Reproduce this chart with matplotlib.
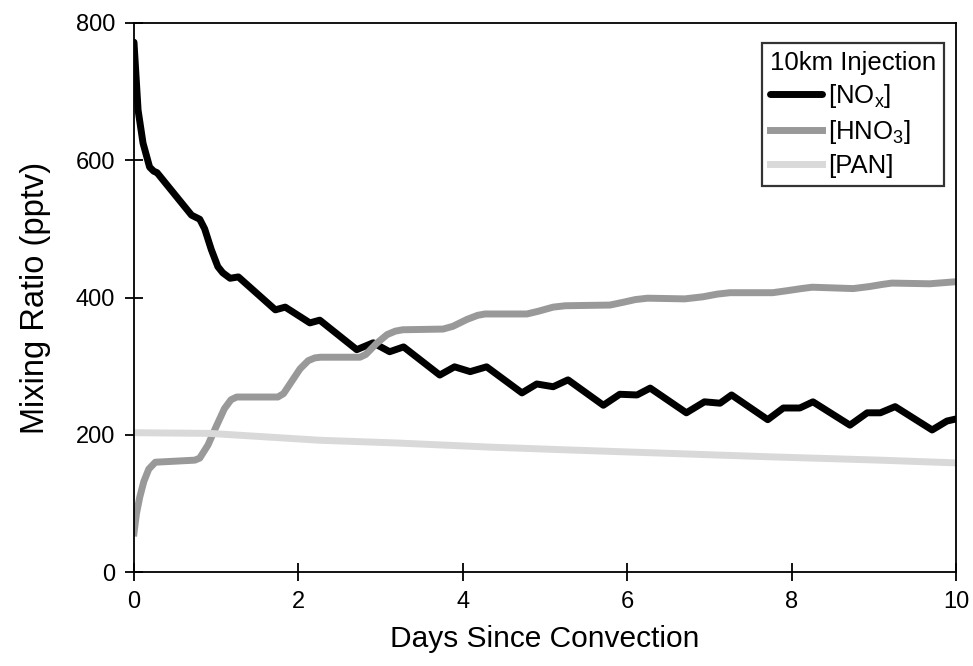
import matplotlib
matplotlib.use("Agg")
import matplotlib.pyplot as plt

plt.rcParams['font.family'] = ['Liberation Sans', 'DejaVu Sans']

# NOx mixing ratio after 10 km convective injection
nox_days = [0, 0.05, 0.11, 0.19, 0.24, 0.28, 0.70, 0.80, 0.86, 0.94, 1.02, 1.08, 1.17, 1.27,
            1.72, 1.84, 2.14, 2.26, 2.71, 2.91, 3.11, 3.28, 3.72, 3.90, 4.09, 4.29,
            4.72, 4.90, 5.10, 5.28, 5.71, 5.91, 6.12, 6.28, 6.72, 6.94, 7.13, 7.27,
            7.71, 7.90, 8.10, 8.26, 8.71, 8.92, 9.08, 9.26, 9.71, 9.89, 10.0]
nox_pptv = [772, 673, 625, 590, 584, 582, 520, 514, 500, 470, 445, 436, 428, 430,
            382, 386, 363, 367, 324, 334, 321, 328, 287, 299, 292, 299,
            261, 274, 270, 280, 243, 259, 258, 268, 232, 248, 246, 258,
            222, 239, 239, 248, 214, 232, 232, 241, 207, 220, 223]

hno3_days = [0, 0.03, 0.07, 0.12, 0.18, 0.26, 0.74, 0.80, 0.90, 1.00, 1.10, 1.18, 1.25,
             1.75, 1.82, 1.92, 2.02, 2.12, 2.20, 2.27,
             2.75, 2.82, 2.95, 3.08, 3.18, 3.27, 3.76, 3.88, 4.05, 4.18, 4.27,
             4.78, 4.92, 5.10, 5.25, 5.79, 5.95, 6.10, 6.25, 6.7,
             6.92, 7.10, 7.25, 7.77, 7.95, 8.12, 8.25, 8.75, 8.95, 9.10, 9.22, 9.68, 10.0]
hno3_pptv = [57, 85, 109, 132, 150, 160, 163, 166, 185, 212, 238, 251, 255,
             255, 260, 278, 296, 308, 312, 313,
             313, 317, 333, 346, 351, 353, 354, 358, 368, 374, 376,
             376, 380, 386, 388, 389, 393, 397, 399, 398,
             401, 405, 407, 407, 410, 413, 415, 413, 416, 419, 421, 420, 423]

pan_days = [0, 0.92, 1.86, 2.26, 3.2, 4.33, 5.26, 6.24, 7.7, 9.08, 10.0]
pan_pptv = [203, 202, 195, 192, 188, 182, 178, 174, 168, 163, 159]

fig = plt.figure(figsize=(9.73, 6.66), dpi=100)
ax = fig.add_axes([0.1377, 0.1411, 0.8448, 0.8244])

lw = 5.0
ax.plot(nox_days, nox_pptv, color='black', lw=lw, solid_joinstyle='round',
        solid_capstyle='round', label=r'[NO$_\mathregular{x}$]')
ax.plot(hno3_days, hno3_pptv, color='#999999', lw=lw, solid_joinstyle='round',
        label=r'[HNO$_\mathregular{3}$]')
ax.plot(pan_days, pan_pptv, color='#d9d9d9', lw=lw, solid_joinstyle='round',
        label='[PAN]')

ax.set_xlim(0, 10)
ax.set_ylim(0, 800)
ax.set_xticks([0, 2, 4, 6, 8, 10])
ax.set_yticks([0, 200, 400, 600, 800])
ax.tick_params(direction='inout', length=13, width=1.3, labelsize=17, pad=7,
               colors='black')
for s in ax.spines.values():
    s.set_linewidth(1.3)

ax.set_xlabel('Days Since Convection', fontsize=21.5, labelpad=9)
ax.set_ylabel('Mixing Ratio (pptv)', fontsize=23.5, labelpad=18)

leg = ax.legend(title='10km Injection', loc='upper right', fontsize=18.5,
                title_fontsize=18.5, frameon=True, fancybox=False,
                handlelength=2.0, handletextpad=0.25, borderpad=0.3,
                labelspacing=0.3, borderaxespad=0.0,
                bbox_to_anchor=(0.9854, 0.9636))
leg._legend_box.align = 'left'
leg.get_frame().set_edgecolor('black')
leg.get_frame().set_linewidth(1.6)

fig.savefig('out.png', dpi=100)
